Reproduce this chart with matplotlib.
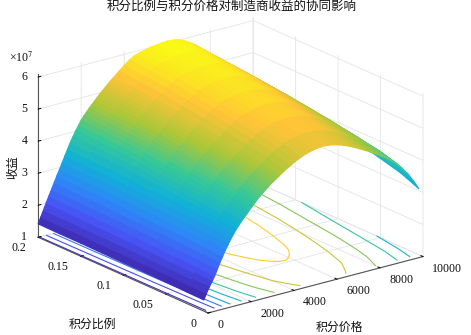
import matplotlib
matplotlib.use('Agg')
import matplotlib.pyplot as plt
import numpy as np
from matplotlib.colors import LinearSegmentedColormap, Normalize
from mpl_toolkits.mplot3d import proj3d

SERIF = 'Liberation Serif'
CJK = ['Noto Sans CJK SC', 'DejaVu Sans']
plt.rcParams['font.family'] = [SERIF]
plt.rcParams['mathtext.fontset'] = 'stix'

# Values
prices = [0, 125, 250, 375, 500, 625, 750, 875, 1000, 1125, 1250, 1375, 1500, 1625, 1750, 1875,
          2000, 2125, 2250, 2375, 2500, 2625, 2750, 2875, 3000, 3125, 3250, 3375, 3500,
          3750, 4000, 4250, 4500, 4750, 5000, 5250, 5500, 5750, 6000, 6250, 6500,
          6750, 7000, 7250, 7500, 7750, 8000, 8250, 8500, 8750, 9000, 9250, 9500, 9750, 10000]
ratios = [0.005, 0.025, 0.05, 0.075, 0.1, 0.125, 0.15, 0.175, 0.2]
revenue = [  # one row per ratio, in units of 1e7
    [1.35, 1.53, 1.70, 1.85, 2.00, 2.19, 2.38, 2.55, 2.72, 2.87, 3.02, 3.15, 3.28, 3.39, 3.49, 3.59, 3.68, 3.78, 3.87, 3.96, 4.05, 4.13, 4.21, 4.28, 4.35, 4.42, 4.48, 4.54, 4.60,
     4.72, 4.82, 4.92, 5.00, 5.07, 5.12, 5.15, 5.17, 5.16, 5.13, 5.09, 5.03, 4.96, 4.88, 4.79, 4.70, 4.60, 4.50, 4.39, 4.28, 4.15, 4.00, 3.81, 3.60, 3.35, 3.06],
    [1.36, 1.54, 1.71, 1.88, 2.04, 2.23, 2.42, 2.60, 2.77, 2.93, 3.08, 3.22, 3.36, 3.48, 3.59, 3.70, 3.80, 3.90, 3.99, 4.09, 4.18, 4.26, 4.34, 4.42, 4.49, 4.56, 4.63, 4.69, 4.75,
     4.88, 4.99, 5.09, 5.18, 5.24, 5.29, 5.32, 5.34, 5.34, 5.32, 5.28, 5.23, 5.16, 5.07, 4.98, 4.88, 4.77, 4.66, 4.55, 4.43, 4.30, 4.15, 3.98, 3.78, 3.55, 3.29],
    [1.38, 1.56, 1.73, 1.90, 2.07, 2.26, 2.45, 2.63, 2.80, 2.97, 3.13, 3.28, 3.43, 3.56, 3.68, 3.79, 3.90, 4.00, 4.10, 4.19, 4.28, 4.37, 4.45, 4.53, 4.60, 4.67, 4.74, 4.81, 4.87,
     5.00, 5.12, 5.23, 5.32, 5.38, 5.43, 5.46, 5.48, 5.48, 5.46, 5.43, 5.39, 5.32, 5.23, 5.13, 5.02, 4.91, 4.80, 4.68, 4.56, 4.42, 4.27, 4.10, 3.92, 3.71, 3.47],
    [1.39, 1.57, 1.75, 1.93, 2.10, 2.29, 2.48, 2.66, 2.84, 3.01, 3.18, 3.34, 3.49, 3.63, 3.76, 3.88, 3.99, 4.10, 4.20, 4.29, 4.38, 4.47, 4.55, 4.63, 4.70, 4.78, 4.85, 4.92, 4.98,
     5.11, 5.24, 5.35, 5.44, 5.50, 5.55, 5.58, 5.60, 5.61, 5.60, 5.57, 5.53, 5.46, 5.37, 5.26, 5.15, 5.03, 4.91, 4.79, 4.67, 4.53, 4.38, 4.22, 4.04, 3.85, 3.63],
    [1.39, 1.58, 1.77, 1.95, 2.13, 2.32, 2.50, 2.68, 2.86, 3.04, 3.21, 3.38, 3.54, 3.68, 3.82, 3.95, 4.07, 4.18, 4.28, 4.37, 4.46, 4.55, 4.63, 4.71, 4.79, 4.87, 4.94, 5.01, 5.08,
     5.21, 5.34, 5.45, 5.55, 5.61, 5.66, 5.69, 5.71, 5.72, 5.72, 5.69, 5.65, 5.58, 5.49, 5.38, 5.27, 5.15, 5.02, 4.90, 4.77, 4.63, 4.47, 4.31, 4.15, 3.97, 3.78],
    [1.40, 1.59, 1.78, 1.97, 2.15, 2.34, 2.52, 2.71, 2.89, 3.07, 3.25, 3.43, 3.60, 3.75, 3.89, 4.02, 4.15, 4.26, 4.36, 4.45, 4.54, 4.63, 4.71, 4.80, 4.88, 4.96, 5.03, 5.10, 5.17,
     5.31, 5.44, 5.55, 5.66, 5.72, 5.76, 5.80, 5.82, 5.83, 5.83, 5.81, 5.77, 5.70, 5.61, 5.50, 5.38, 5.25, 5.12, 4.99, 4.86, 4.72, 4.56, 4.41, 4.26, 4.09, 3.92],
    [1.41, 1.60, 1.79, 1.98, 2.17, 2.36, 2.55, 2.74, 2.92, 3.11, 3.29, 3.47, 3.64, 3.79, 3.94, 4.08, 4.21, 4.32, 4.42, 4.51, 4.60, 4.69, 4.78, 4.87, 4.95, 5.03, 5.11, 5.18, 5.25,
     5.40, 5.53, 5.65, 5.75, 5.80, 5.84, 5.88, 5.90, 5.91, 5.92, 5.90, 5.87, 5.80, 5.70, 5.59, 5.47, 5.34, 5.20, 5.07, 4.93, 4.79, 4.64, 4.50, 4.35, 4.19, 4.03],
    [1.41, 1.60, 1.80, 2.00, 2.19, 2.38, 2.56, 2.75, 2.93, 3.12, 3.31, 3.49, 3.67, 3.83, 3.98, 4.12, 4.26, 4.37, 4.47, 4.56, 4.65, 4.74, 4.83, 4.92, 5.00, 5.08, 5.16, 5.24, 5.31,
     5.46, 5.59, 5.72, 5.82, 5.87, 5.91, 5.95, 5.97, 5.99, 6.00, 5.98, 5.95, 5.88, 5.78, 5.67, 5.54, 5.40, 5.26, 5.13, 5.00, 4.85, 4.70, 4.56, 4.42, 4.27, 4.12],
    [1.42, 1.61, 1.81, 2.01, 2.20, 2.39, 2.58, 2.77, 2.95, 3.14, 3.33, 3.52, 3.70, 3.86, 4.02, 4.16, 4.30, 4.41, 4.51, 4.61, 4.70, 4.79, 4.88, 4.97, 5.05, 5.13, 5.21, 5.29, 5.36,
     5.51, 5.65, 5.78, 5.88, 5.93, 5.97, 6.01, 6.03, 6.05, 6.06, 6.05, 6.02, 5.95, 5.85, 5.74, 5.60, 5.46, 5.32, 5.18, 5.05, 4.90, 4.75, 4.61, 4.48, 4.34, 4.20],
]
contour_levels = [1.5, 2, 2.5, 3, 3.5, 4, 4.5, 5, 5.5, 6]
price_ticks = [0, 2000, 4000, 6000, 8000, 10000]
price_tick_labels = ['0', '2000', '4000', '6000', '8000', '10000']
ratio_ticks = [0, 0.05, 0.1, 0.15, 0.2]
ratio_tick_labels = ['0', '0.05', '0.1', '0.15', '0.2']
revenue_ticks = [1, 2, 3, 4, 5, 6]
revenue_tick_labels = ['1', '2', '3', '4', '5', '6']
title = '积分比例与积分价格对制造商收益的协同影响'

parula = LinearSegmentedColormap.from_list('parula', [
    (0.2422, 0.1504, 0.6603), (0.2810, 0.3228, 0.9579), (0.1786, 0.5289, 0.9682),
    (0.0689, 0.6948, 0.8394), (0.2161, 0.7843, 0.5923), (0.6720, 0.7793, 0.2227),
    (0.9970, 0.7659, 0.2199), (0.9769, 0.9839, 0.0805)])

fig = plt.figure(figsize=(4.71, 3.35), dpi=100)
ax = fig.add_axes([0.1245, -0.0066, 0.711, 1.0], projection='3d', computed_zorder=False)
ax.set_proj_type('ortho')
ax.view_init(elev=20, azim=-127.5)
ax.set_box_aspect((271, 279, 174), zoom=1.235)

P, R = np.meshgrid(prices, ratios)
Z = np.array(revenue)
norm = Normalize(Z.min(), Z.max())

lines = ax.contour(P, R, Z, levels=contour_levels, zdir='z', offset=1, cmap=parula, norm=norm,
                   linewidths=0.8, zorder=1)
lines.set_clip_on(False)
surf = ax.plot_surface(P, R, Z, rstride=1, cstride=1, cmap=parula, norm=norm, linewidth=0.9,
                       antialiased=True, shade=False, zorder=2)
surf.set_edgecolor('face')
surf.set_clip_on(False)

ax.set_xlim(0, 10000, view_margin=0)
ax.set_ylim(0, 0.2, view_margin=0)
ax.set_zlim(1, 6.1, view_margin=0)
ax.set_xticks(price_ticks, [''] * len(price_ticks))
ax.set_yticks(ratio_ticks, [''] * len(ratio_ticks))
ax.set_zticks(revenue_ticks, [''] * len(revenue_ticks))

for axis in (ax.xaxis, ax.yaxis, ax.zaxis):
    axis.set_pane_color((1, 1, 1, 0))
    axis.pane.set_edgecolor('#dddddd')
    axis.line.set_color('#555555')
    axis.line.set_linewidth(0.8)
    axis._axinfo['grid'].update(color='#e4e4e4', linewidth=0.6)
    axis._axinfo['tick'].update(inward_factor=0, outward_factor=0.15, linewidth={True: 0.7, False: 0.5}, color='#555555')


def label_tick(x, y, z, text, dx, dy, ha):
    """Put a tick label at a pixel offset from its tick on the axis."""
    px, py, _ = proj3d.proj_transform(x, y, z, ax.get_proj())
    ax.annotate(text, (px, py), xytext=(dx * 0.72, -dy * 0.72), textcoords='offset points',
                fontsize=8.6, ha=ha, va='center', color='#111111', annotation_clip=False)


for value, text in zip(price_ticks, price_tick_labels):
    label_tick(value, 0, 1, text, 9, 12, 'left')
for value, text in zip(ratio_ticks, ratio_tick_labels):
    label_tick(0, value, 1, text, -12, 11, 'right')
for value, text in zip(revenue_ticks, revenue_tick_labels):
    label_tick(0, 0.2, value, text, -11, 0, 'right')

fig.text(232 / 471, 1 - 6 / 335, title, family=CJK, fontsize=9, ha='center', va='center', color='#111111')
fig.text(339 / 471, 1 - 327 / 335, '积分价格', family=CJK, fontsize=8.6, ha='center', va='center', color='#111111')
fig.text(92 / 471, 1 - 324 / 335, '积分比例', family=CJK, fontsize=8.6, ha='center', va='center', color='#111111')
fig.text(13 / 471, 1 - 167 / 335, '收益', family=CJK, fontsize=8.6, rotation=90, ha='center', va='center', color='#111111')
fig.text(9 / 471, 1 - 58 / 335, '×10$^{7}$', fontsize=8.6, ha='left', va='center', color='#111111')

fig.savefig('out.png', dpi=100)
